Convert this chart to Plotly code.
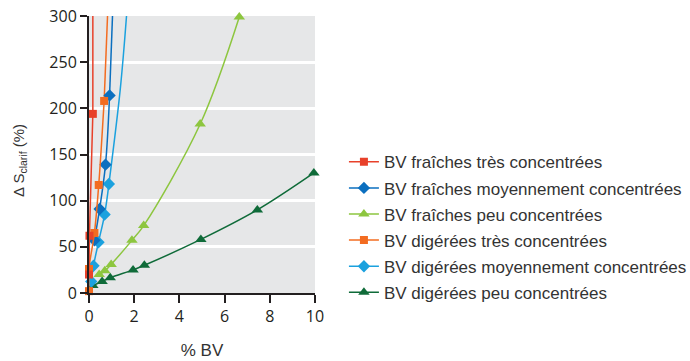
import plotly.graph_objects as go

# ---- data ----
names = [
    "BV fraîches très concentrées",
    "BV fraîches moyennement concentrées",
    "BV fraîches peu concentrées",
    "BV digérées très concentrées",
    "BV digérées moyennement concentrées",
    "BV digérées peu concentrées",
]

fr_tres_x = [0.0, 0.02, 0.17]
fr_tres_y = [20, 62, 194]
fr_tres_ext_x = [0.17, 0.17]
fr_tres_ext_y = [194, 300]

fr_moy_x = [0.24, 0.47, 0.73, 0.91]
fr_moy_y = [57, 91, 139, 214]
fr_moy_ext_x = [0.91, 1.04]
fr_moy_ext_y = [214, 300]

fr_peu_x = [0.45, 0.7, 0.98, 1.9, 2.42, 4.92, 6.65]
fr_peu_y = [20, 24, 31, 57, 73, 183, 299]

dg_tres_x = [0.0, 0.0, 0.24, 0.43, 0.67]
dg_tres_y = [2, 26, 65, 117, 208]
dg_tres_ext_x = [0.67, 0.82]
dg_tres_ext_y = [208, 300]

dg_moy_x = [0.1, 0.2, 0.42, 0.69, 0.88]
dg_moy_y = [12.5, 29.5, 55, 85, 118]
dg_moy_ext_x = [0.88, 1.38, 1.66]
dg_moy_ext_y = [118, 220, 300]

dg_peu_x = [0.17, 0.58, 0.94, 1.95, 2.45, 4.95, 7.45, 9.95]
dg_peu_y = [8, 12.5, 16.5, 25, 30, 58, 90, 130]

x_ticks = [0, 2, 4, 6, 8, 10]
y_ticks = [0, 50, 100, 150, 200, 250, 300]

x_title = "% BV"
y_title = "Δ S<sub>clarif</sub> (%)"

# ---- styles ----
colors = ["#e8412a", "#0b6fbf", "#8dc63f", "#f36c21", "#1ba1de", "#0f6b39"]
symbols = ["square", "diamond", "triangle-up", "square", "diamond", "triangle-up"]
sizes = [8, 9.5, 10, 8, 9.5, 10]

series = [
    (fr_tres_x, fr_tres_y, fr_tres_ext_x, fr_tres_ext_y),
    (fr_moy_x, fr_moy_y, fr_moy_ext_x, fr_moy_ext_y),
    (fr_peu_x, fr_peu_y, None, None),
    (dg_tres_x, dg_tres_y, dg_tres_ext_x, dg_tres_ext_y),
    (dg_moy_x, dg_moy_y, dg_moy_ext_x, dg_moy_ext_y),
    (dg_peu_x, dg_peu_y, None, None),
]

fig = go.Figure()

# extension lines (trend beyond last point), drawn first
for i, (xs, ys, ex, ey) in enumerate(series):
    if ex is not None:
        fig.add_trace(go.Scatter(
            x=ex, y=ey, mode="lines",
            line=dict(color=colors[i], width=1.5, shape="spline"),
            showlegend=False, legendgroup=f"g{i}", hoverinfo="skip",
        ))

# order of drawing: greens first, then blues, then reds on top
draw_order = [5, 2, 4, 1, 3, 0]
for i in draw_order:
    xs, ys, ex, ey = series[i]
    fig.add_trace(go.Scatter(
        x=xs, y=ys, mode="lines+markers", name=names[i],
        line=dict(color=colors[i], width=1.5, shape="spline"),
        marker=dict(symbol=symbols[i], size=sizes[i], color=colors[i], line=dict(width=0)),
        cliponaxis=False, legendgroup=f"g{i}", legendrank=i + 1,
    ))

fig.update_layout(
    width=690, height=361,
    margin=dict(l=89, r=375, t=16, b=68, autoexpand=False),
    paper_bgcolor="white",
    plot_bgcolor="#e6e7e8",
    font=dict(family="Open Sans", size=16, color="#231f20"),
    showlegend=True,
    legend=dict(
        x=1.128, y=0.537, xanchor="left", yanchor="top",
        font=dict(family="Liberation Sans", size=17, color="#333333"),
        bgcolor="rgba(0,0,0,0)",
        tracegroupgap=1,
        traceorder="grouped",
    ),
    xaxis=dict(
        range=[0, 10], tickvals=x_ticks, ticktext=[str(v) for v in x_ticks],
        showgrid=False, zeroline=False,
        showline=True, linecolor="#231f20", linewidth=2,
        ticks="outside", ticklen=8, tickwidth=1.5, tickcolor="#231f20",
        title=dict(text=x_title, font=dict(family="Liberation Sans", size=17, color="#333333"), standoff=18),
    ),
    yaxis=dict(
        range=[0, 300], tickvals=y_ticks, ticktext=[str(v) for v in y_ticks],
        showgrid=True, gridcolor="white", gridwidth=2.5,
        zeroline=False,
        showline=True, linecolor="#231f20", linewidth=2,
        ticks="outside", ticklen=7, tickwidth=1.5, tickcolor="#231f20",
    ),
    annotations=[dict(
        text=y_title, textangle=-90, xref="paper", yref="paper",
        x=-0.305, y=0.477, xanchor="center", yanchor="middle", showarrow=False,
        font=dict(family="Liberation Sans", size=15, color="#333333"),
    )],
)

# remove the browser's default 8px body margin so the figure sits at the page corner
fig.write_html("out.html", config={"displayModeBar": False},
               post_script="document.body.style.margin='0';")
